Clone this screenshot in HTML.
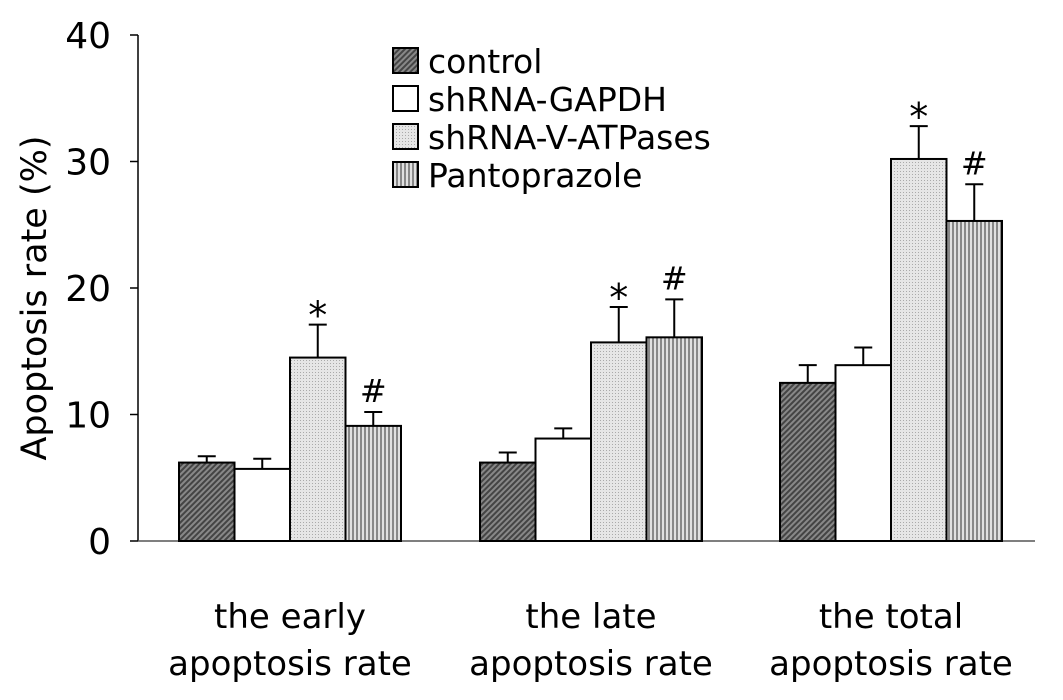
<!DOCTYPE html>
<html><head><meta charset="utf-8"><style>
body{margin:0;background:#fff}
svg text{font-family:"DejaVu Sans","Liberation Sans",sans-serif;fill:#000}
</style></head><body>
<svg id="chart" width="1063" height="695" viewBox="0 0 1063 695" xmlns="http://www.w3.org/2000/svg">
<defs>
<pattern id="pDiag" patternUnits="userSpaceOnUse" width="4" height="4" patternTransform="rotate(45)">
<rect width="4" height="4" fill="#888"/><rect width="2" height="4" fill="#444"/></pattern>
<pattern id="pDot" patternUnits="userSpaceOnUse" width="3" height="3">
<rect width="3" height="3" fill="#e6e6e6"/><rect width="1" height="1" fill="#aaa"/></pattern>
<pattern id="pVert" patternUnits="userSpaceOnUse" width="4" height="4">
<rect width="4" height="4" fill="#e0e0e0"/><rect width="2" height="4" fill="#888"/></pattern>
</defs>
<g id="axes"></g>
<g id="bars"></g>
<g id="legend"></g>
</svg>
<script>
const categories=[["the early","apoptosis rate"],["the late","apoptosis rate"],["the total","apoptosis rate"]];
const seriesNames=["control","shRNA-GAPDH","shRNA-V-ATPases","Pantoprazole"];
const controlVals=[6.2,6.2,12.5];
const gapdhVals=[5.7,8.1,13.9];
const vatpVals=[14.5,15.7,30.2];
const pantoVals=[9.1,16.1,25.3];
const controlErr=[0.5,0.8,1.4];
const gapdhErr=[0.8,0.8,1.4];
const vatpErr=[2.6,2.8,2.6];
const pantoErr=[1.1,3.0,2.9];
const marks=[["","","*","#"],["","","*","#"],["","","*","#"]];
const yTicks=[0,10,20,30,40];
const NS="http://www.w3.org/2000/svg";
const y0=541,yTop=35,x0=138,xEnd=1035;
const y=v=>y0-(v/40)*(y0-yTop);
const groupStart=[179,480,780],barW=55.5;
const fills=["url(#pDiag)","#fff","url(#pDot)","url(#pVert)"];
const vals=[controlVals,gapdhVals,vatpVals,pantoVals];
const errs=[controlErr,gapdhErr,vatpErr,pantoErr];
function el(t,a,p){const e=document.createElementNS(NS,t);for(const k in a)e.setAttribute(k,a[k]);p.appendChild(e);return e;}
const ax=document.getElementById('axes'),bg=document.getElementById('bars'),lg=document.getElementById('legend');
let l=el('line',{x1:x0,y1:yTop,x2:x0,y2:y0,stroke:'#000','stroke-width':1.5},ax);


l=el('line',{x1:x0,y1:y0,x2:xEnd,y2:y0,stroke:'#555','stroke-width':1.5},ax);


yTicks.forEach(v=>{
 const t=el('line',{x1:x0-8,y1:y(v),x2:x0,y2:y(v),stroke:'#000','stroke-width':1.5},ax);
 
 
 const tx=el('text',{x:x0-27,y:y(v)+13,'text-anchor':'end','font-size':36},ax);tx.textContent=v;
 
 
});
const yt=el('text',{x:46,y:298,'text-anchor':'middle','font-size':35,transform:'rotate(-90 46 298)'},ax);
yt.textContent='Apoptosis rate (%)';


categories.forEach((c,gi)=>{
 const cx=groupStart[gi]+barW*2;
 c.forEach((line,li)=>{
  const t=el('text',{x:cx,y:628+li*47,'text-anchor':'middle','font-size':34},ax);t.textContent=line;
  
  
 });
 for(let s=0;s<4;s++){
  const v=vals[s][gi],e=errs[s][gi],bx=groupStart[gi]+s*barW,mx=bx+barW/2;
  const eb=el('path',{d:`M${mx} ${y(v)}V${y(v+e)}M${mx-9} ${y(v+e)}H${mx+9}`,stroke:'#000','stroke-width':2,fill:'none'},bg);
  
  
  const r=el('rect',{x:bx,y:y(v),width:barW,height:y0-y(v),fill:fills[s],stroke:'#000','stroke-width':2},bg);
  
  
  const m=marks[gi][s];
  if(m){const t=el('text',{x:mx,y:y(v+e)-10,'text-anchor':'middle','font-size':m=='*'?38:32},bg);t.textContent=m;
   if(m=='*')t.setAttribute('y',y(v+e)+4);
   
   }
 }
});
seriesNames.forEach((n,i)=>{
 const ly=48+i*38;
 const r=el('rect',{x:393,y:ly,width:25,height:25,fill:fills[i],stroke:'#000','stroke-width':2},lg);
 
 
 const t=el('text',{x:428,y:ly+25,'font-size':33},lg);t.textContent=n;
 
 
});
</script>
</body></html>
